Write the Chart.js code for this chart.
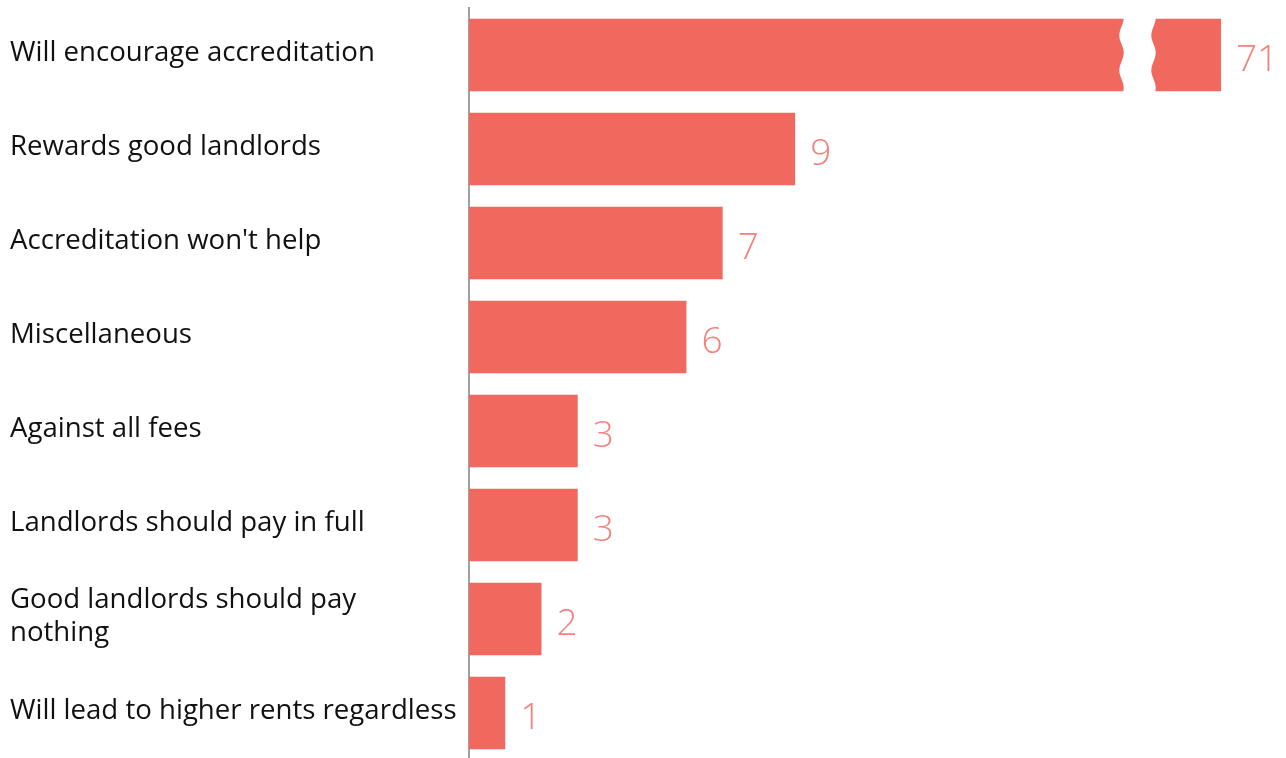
<!DOCTYPE html>
<html>
<head>
<meta charset="utf-8">
<style>
  html, body { margin: 0; padding: 0; background: #ffffff; overflow: hidden; }
  #wrap { position: absolute; left: 0; top: 0; width: 1286px; height: 760px; }
</style>
<script src="https://cdn.jsdelivr.net/npm/chart.js@4.4.1/dist/chart.umd.min.js"></script>
</head>
<body>
<div id="wrap"><canvas id="chart" width="1286" height="760"></canvas></div>
<script>
// Responses to the accreditation question
const categories = [
  'Will encourage accreditation',
  'Rewards good landlords',
  "Accreditation won't help",
  'Miscellaneous',
  'Against all fees',
  'Landlords should pay in full',
  ['Good landlords should pay', 'nothing'],
  'Will lead to higher rents regardless'
];
const responseCounts = [71, 9, 7, 6, 3, 3, 2, 1];

// Visible part of the value axis; longer bars are cut with a break mark
const axisMax = 20.75;

const barColor = '#F1685E';
const valueColor = '#F77F7C';
const labelFont = "'Open Sans', 'Noto Sans', sans-serif";

// Value labels at the end of each bar (clamped to the plot edge for broken bars)
const valueLabels = {
  id: 'valueLabels',
  afterDatasetsDraw(chart) {
    const ctx = chart.ctx;
    const area = chart.chartArea;
    const meta = chart.getDatasetMeta(0);
    ctx.save();
    ctx.fillStyle = valueColor;
    ctx.font = '300 37px ' + labelFont;
    ctx.textAlign = 'left';
    ctx.textBaseline = 'middle';
    meta.data.forEach((bar, i) => {
      const end = Math.min(bar.x, area.right);
      ctx.fillText(String(responseCounts[i]), end + 15, bar.y + 5);
    });
    ctx.restore();
  }
};

// Wavy white gap across bars that run past the end of the axis
const axisBreak = {
  id: 'axisBreak',
  afterDatasetsDraw(chart) {
    const ctx = chart.ctx;
    const area = chart.chartArea;
    const meta = chart.getDatasetMeta(0);
    meta.data.forEach((bar, i) => {
      if (responseCounts[i] <= axisMax) return;
      const top = bar.y - bar.height / 2 - 1;
      const bottom = bar.y + bar.height / 2 + 1;
      const h = bottom - top;
      const left = area.right - 99.5;
      const right = area.right - 67.5;
      const wave = (t) => 2.2 * Math.cos(Math.PI * 2 * (t * h - 35) / 35);
      ctx.save();
      ctx.fillStyle = '#ffffff';
      ctx.beginPath();
      const steps = 60;
      for (let s = 0; s <= steps; s++) {
        const t = s / steps;
        const x = left + wave(t);
        const y = top + t * h;
        if (s === 0) ctx.moveTo(x, y); else ctx.lineTo(x, y);
      }
      for (let s = steps; s >= 0; s--) {
        const t = s / steps;
        ctx.lineTo(right + wave(t), top + t * h);
      }
      ctx.closePath();
      ctx.fill();
      ctx.restore();
    });
  }
};

new Chart(document.getElementById('chart'), {
  type: 'bar',
  data: {
    labels: categories,
    datasets: [{
      data: responseCounts,
      backgroundColor: barColor,
      borderWidth: 0,
      categoryPercentage: 1,
      barPercentage: 0.77
    }]
  },
  options: {
    indexAxis: 'y',
    responsive: false,
    animation: false,
    events: [],
    layout: { padding: { left: 10, right: 65, top: 8, bottom: 0 } },
    plugins: {
      legend: { display: false },
      tooltip: { enabled: false }
    },
    scales: {
      x: {
        min: 0,
        max: axisMax,
        display: false
      },
      y: {
        grid: { display: false },
        border: { display: true, color: '#A0A0A0', width: 2 },
        afterFit(scale) {
          scale.width = 459;
          scale.paddingTop = 0;
          scale.paddingBottom = 0;
        },
        ticks: {
          crossAlign: 'far',
          labelOffset: -2,
          color: '#111111',
          font: { family: labelFont, size: 27.6, lineHeight: 1.2 }
        }
      }
    }
  },
  plugins: [valueLabels, axisBreak]
});
</script>
</body>
</html>
